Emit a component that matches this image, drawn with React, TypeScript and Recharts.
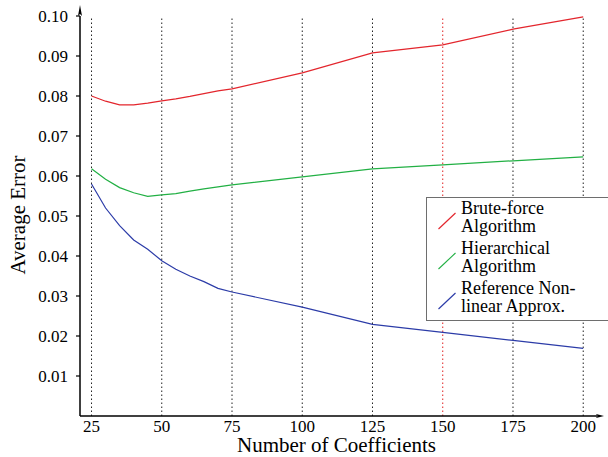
import React from 'react';
import { LineChart, Line, XAxis, YAxis, ReferenceLine, Legend } from 'recharts';

const FONT = '"Liberation Serif", "Times New Roman", Times, serif';

// number of coefficients (x)
const coefficients = [25, 30, 35, 40, 45, 50, 55, 60, 65, 70, 75, 100, 125, 150, 175, 200];

// average error per method
const bruteForce = [0.08, 0.0787, 0.0778, 0.0778, 0.0782, 0.0788, 0.0793, 0.0799, 0.0806, 0.0813, 0.0818, 0.0858, 0.0908, 0.0928, 0.0967, 0.0998];
const hierarchical = [0.0618, 0.0592, 0.0571, 0.0558, 0.0549, 0.0553, 0.0556, 0.0562, 0.0568, 0.0573, 0.0578, 0.0598, 0.0618, 0.0628, 0.0638, 0.0648];
const reference = [0.058, 0.052, 0.0476, 0.044, 0.0417, 0.0388, 0.0367, 0.035, 0.0336, 0.0319, 0.031, 0.0272, 0.0229, 0.0209, 0.0189, 0.0169];

const xTicks = [25, 50, 75, 100, 125, 150, 175, 200];
const yTicks = [0.01, 0.02, 0.03, 0.04, 0.05, 0.06, 0.07, 0.08, 0.09, 0.1];

const legendLines: Record<string, string[]> = {
  brute: ['Brute-force', 'Algorithm'],
  hier: ['Hierarchical', 'Algorithm'],
  ref: ['Reference Non-', 'linear Approx.'],
};

const data = coefficients.map((n, i) => ({
  n,
  brute: bruteForce[i],
  hier: hierarchical[i],
  ref: reference[i],
}));

function LegendBox({ payload }: { payload?: { value: string; color: string; dataKey: string }[] }) {
  if (!payload) return null;
  return (
    <div
      style={{
        border: '1.5px solid #6e6e6e',
        background: '#fff',
        padding: '1px 0 5px 0',
        fontFamily: FONT,
        fontSize: 18,
        lineHeight: '18px',
        color: '#000',
        width: 200,
        boxSizing: 'border-box',
      }}
    >
      {payload.map((p, i) => (
        <div key={p.dataKey} style={{ position: 'relative', paddingLeft: 34, marginTop: i === 0 ? 0 : 4 }}>
          <svg width={18} height={36} style={{ position: 'absolute', left: 11, top: 0 }}>
            <line x1={0.5} y1={30} x2={17.5} y2={14} stroke={p.color} strokeWidth={1.1} />
          </svg>
          {(legendLines[p.dataKey] ?? [p.value]).map((t) => (
            <div key={t} style={{ whiteSpace: 'nowrap' }}>{t}</div>
          ))}
        </div>
      ))}
    </div>
  );
}

export default function App() {
  const tick = { fontSize: 17, fill: '#000', fontFamily: FONT };
  return (
    <div style={{ position: 'absolute', left: 0, top: 0, width: 608, height: 457, overflow: 'hidden', background: '#fff', fontFamily: FONT }}>
      <svg width={0} height={0} style={{ position: 'absolute' }}>
        <defs>
          <marker id="arrowY" viewBox="0 0 11 4" refX={0} refY={2} markerWidth={11} markerHeight={4} markerUnits="userSpaceOnUse" orient="auto-start-reverse">
            <path d="M0,0 L11,2 L0,4 L2,2 Z" fill="#000" />
          </marker>
          <marker id="arrowX" viewBox="0 0 8 4" refX={1} refY={2} markerWidth={8} markerHeight={4} markerUnits="userSpaceOnUse" orient="auto">
            <path d="M0,0 L8,2 L0,4 L1.5,2 Z" fill="#000" />
          </marker>
        </defs>
      </svg>
      <LineChart width={608} height={457} data={data} margin={{ top: 16, right: 11, bottom: 0, left: 0 }} style={{ fontFamily: FONT }}>
        {xTicks.map((x) => (
          <ReferenceLine
            key={x}
            segment={[{ x, y: 0 }, { x, y: 0.1 }]}
            stroke={x === 150 ? '#e02020' : '#222'}
            strokeDasharray="1.5 2.5"
            strokeWidth={1}
          />
        ))}
        <XAxis
          type="number"
          dataKey="n"
          domain={[20.9, 204.9]}
          allowDataOverflow
          ticks={xTicks}
          height={41}
          tickLine={false}
          tickSize={4}
          tickMargin={0}
          tick={tick}
          axisLine={{ stroke: '#000', strokeWidth: 1.5, markerEnd: 'url(#arrowX)' }}
          label={({ viewBox }: any) => (
            <text x={viewBox.x + viewBox.width / 2 - 2} y={452} textAnchor="middle" fontSize={21} fontFamily={FONT} fill="#000">
              Number of Coefficients
            </text>
          )}
        />
        <YAxis
          type="number"
          domain={[0, 0.1]}
          allowDataOverflow
          ticks={yTicks}
          width={80}
          tickSize={4}
          tickMargin={8}
          tick={tick}
          tickFormatter={(v: number) => v.toFixed(2)}
          tickLine={{ stroke: '#000', strokeWidth: 1.2 }}
          axisLine={{ stroke: '#000', strokeWidth: 1.5, markerStart: 'url(#arrowY)' }}
          label={({ viewBox }: any) => {
            const cy = viewBox.y + viewBox.height / 2 - 1;
            return (
              <text x={25} y={cy} transform={`rotate(-90, 25, ${cy})`} textAnchor="middle" fontSize={21} fontFamily={FONT} fill="#000">
                Average Error
              </text>
            );
          }}
        />
        <Line type="linear" dataKey="brute" name="Brute-force Algorithm" stroke="#e3262d" strokeWidth={1.2} dot={false} isAnimationActive={false} />
        <Line type="linear" dataKey="hier" name="Hierarchical Algorithm" stroke="#22b044" strokeWidth={1.2} dot={false} isAnimationActive={false} />
        <Line type="linear" dataKey="ref" name="Reference Non-linear Approx." stroke="#2c3ca8" strokeWidth={1.2} dot={false} isAnimationActive={false} />
        <Legend
          layout="vertical"
          align="center"
          verticalAlign="middle"
          content={(props: any) => <LegendBox payload={props.payload} />}
          wrapperStyle={{ left: 426, top: 197, width: 200 }}
        />
      </LineChart>
    </div>
  );
}
